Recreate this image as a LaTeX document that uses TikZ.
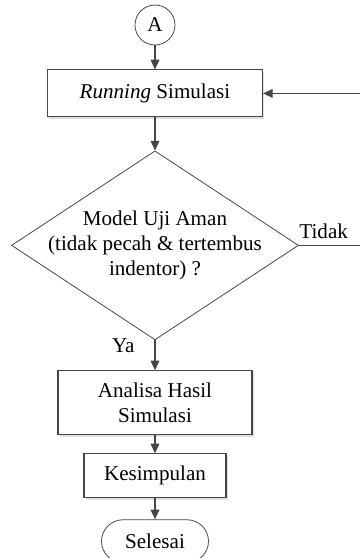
\documentclass[tikz,border=0pt]{standalone}
\usepackage{fontspec}
\setmainfont{Liberation Serif}
\usepackage{tikz}
\usetikzlibrary{shapes.geometric, arrows.meta, positioning, shadows}
\definecolor{lineGray}{RGB}{70,70,70}

\begin{document}
\begin{tikzpicture}[
  basenode/.style = {draw=lineGray, line width=0.6pt, align=center, inner sep=2pt,
                 font=\fontsize{12}{14.2}\selectfont, fill=white, text=black},
  connnode/.style = {basenode, circle, minimum size=0.8cm, line width=0.45pt},
  procnode/.style = {basenode, rectangle, drop shadow={shadow xshift=1pt, shadow yshift=-1pt, opacity=0.25}},
  decnode/.style  = {basenode, diamond, minimum width=5.74cm, minimum height=3.78cm, line width=0.45pt},
  termnode/.style = {basenode, rectangle, rounded corners=0.43cm, minimum width=2.14cm,
                 minimum height=0.86cm, line width=0.45pt},
  lbl/.style  = {font=\fontsize{12}{14.2}\selectfont, text=black},
  arr/.style  = {-{Triangle[length=5.5pt, width=5pt]}, line width=0.6pt, color=lineGray},
]
\useasboundingbox (0,0) rectangle (7.2,-11.16);

%% --- Connector + process ---
\node[connnode] (conA) at (3.1,-0.5) {A};
\node[procnode, below=0.48cm of conA, minimum width=4.3cm, minimum height=0.94cm] (run)
      {\textit{Running} Simulasi};

%% --- Decision ---
\node[decnode, below=0.66cm of run] (dec) {};
\node[lbl, align=center] (dectxt) at (dec.center) {Model Uji Aman\\(tidak pecah \& tertembus\\indentor) ?};

%% --- Result + end ---
\node[procnode, below=0.6cm of dec, minimum width=3.88cm, minimum height=1.28cm] (ana)
      {Analisa Hasil\\Simulasi};
\node[procnode, below=0.36cm of ana, minimum width=2.84cm, minimum height=0.88cm] (kes) {Kesimpulan};
\node[termnode, below=0.42cm of kes] (sel) {Selesai};

%% --- Arrows ---
\coordinate (fb) at ([xshift=1.24cm]dec.east);
\draw[arr] (conA) -- (run);
\draw[arr] (run) -- (dec);
\draw[arr] (dec.south) -- node[lbl, left=8pt, pos=0.17] {Ya} (ana.north);
\draw[arr] (ana) -- (kes);
\draw[arr] (kes) -- (sel);
\draw[arr] (dec.east) -- node[lbl, above, pos=0.4] {Tidak} (fb) |- (run.east);

\end{tikzpicture}
\end{document}
